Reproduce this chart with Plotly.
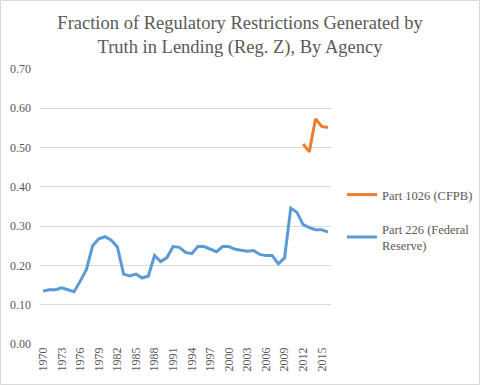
import plotly.graph_objects as go

years = [str(y) for y in range(1970, 2017)]
fed_reserve = [0.135, 0.138, 0.138, 0.143, 0.138, 0.133, 0.160, 0.190, 0.250, 0.268,
               0.273, 0.264, 0.247, 0.178, 0.173, 0.178, 0.168, 0.173, 0.225, 0.210,
               0.220, 0.248, 0.246, 0.233, 0.230, 0.248, 0.248, 0.241, 0.235, 0.248,
               0.248, 0.241, 0.238, 0.236, 0.238, 0.228, 0.225, 0.225, 0.204, 0.219,
               0.346, 0.335, 0.304, 0.296, 0.291, 0.291, 0.285]
cfpb_years = ["2012", "2013", "2014", "2015", "2016"]
cfpb = [0.509, 0.489, 0.573, 0.554, 0.551]
tick_years = [str(y) for y in range(1970, 2017, 3)]
y_ticks = [0.0, 0.1, 0.2, 0.3, 0.4, 0.5, 0.6, 0.7]

font_family = "Liberation Serif"
text_color = "#595959"

fig = go.Figure()
fig.add_trace(go.Scatter(x=cfpb_years, y=cfpb, mode="lines", name="Part 1026 (CFPB)",
                         legendgroup="a",
                         line=dict(color="#ED7D31", width=3)))
fig.add_trace(go.Scatter(x=years, y=fed_reserve, mode="lines",
                         name="Part 226 (Federal<br>Reserve)", legendgroup="b",
                         line=dict(color="#5B9BD5", width=3)))

W, H = 480, 385
L, R, T, B = 40, 149, 69, 41
pw, ph = W - L - R, H - T - B

fig.update_layout(
    width=W, height=H,
    margin=dict(l=L, r=R, t=T, b=B, autoexpand=False),
    paper_bgcolor="white", plot_bgcolor="white",
    font=dict(family=font_family, color=text_color, size=12),
    title=dict(text="Fraction of Regulatory Restrictions Generated by<br>Truth in Lending (Reg. Z), By Agency",
               x=0.5, xanchor="center", y=0.924, yanchor="top",
               font=dict(size=18.5, color=text_color, family=font_family)),
    legend=dict(x=(342 - L) / pw, xanchor="left", y=(344 - 180) / ph, yanchor="top",
                font=dict(size=12.5, color=text_color, family=font_family),
                tracegroupgap=15, bgcolor="rgba(0,0,0,0)"),
    xaxis=dict(type="category", categoryorder="array", categoryarray=years,
               tickmode="array", tickvals=tick_years, ticktext=tick_years,
               tickangle=-90, showgrid=False, showline=False, zeroline=False,
               ticks="", tickfont=dict(size=12, color=text_color, family=font_family),
               range=[-0.5, len(years) - 0.5], automargin=False),
    yaxis=dict(range=[0, 0.7], tickvals=y_ticks, tickformat=".2f",
               showgrid=True, gridcolor="#d9d9d9", gridwidth=1, zeroline=False,
               showline=False, ticks="", automargin=False, ticklabelstandoff=8,
               tickfont=dict(size=12, color=text_color, family=font_family)),
    shapes=[dict(type="rect", xref="paper", yref="paper",
                 x0=(0.5 - L) / pw, x1=(W - 0.5 - L) / pw,
                 y0=-(B - 0.5) / ph, y1=1 + (T - 0.5) / ph,
                 line=dict(color="#d9d9d9", width=1), layer="below")],
)

fig.write_html("out.html", config={"displayModeBar": False},
               post_script="document.body.style.margin='0';document.body.style.overflow='hidden';")
